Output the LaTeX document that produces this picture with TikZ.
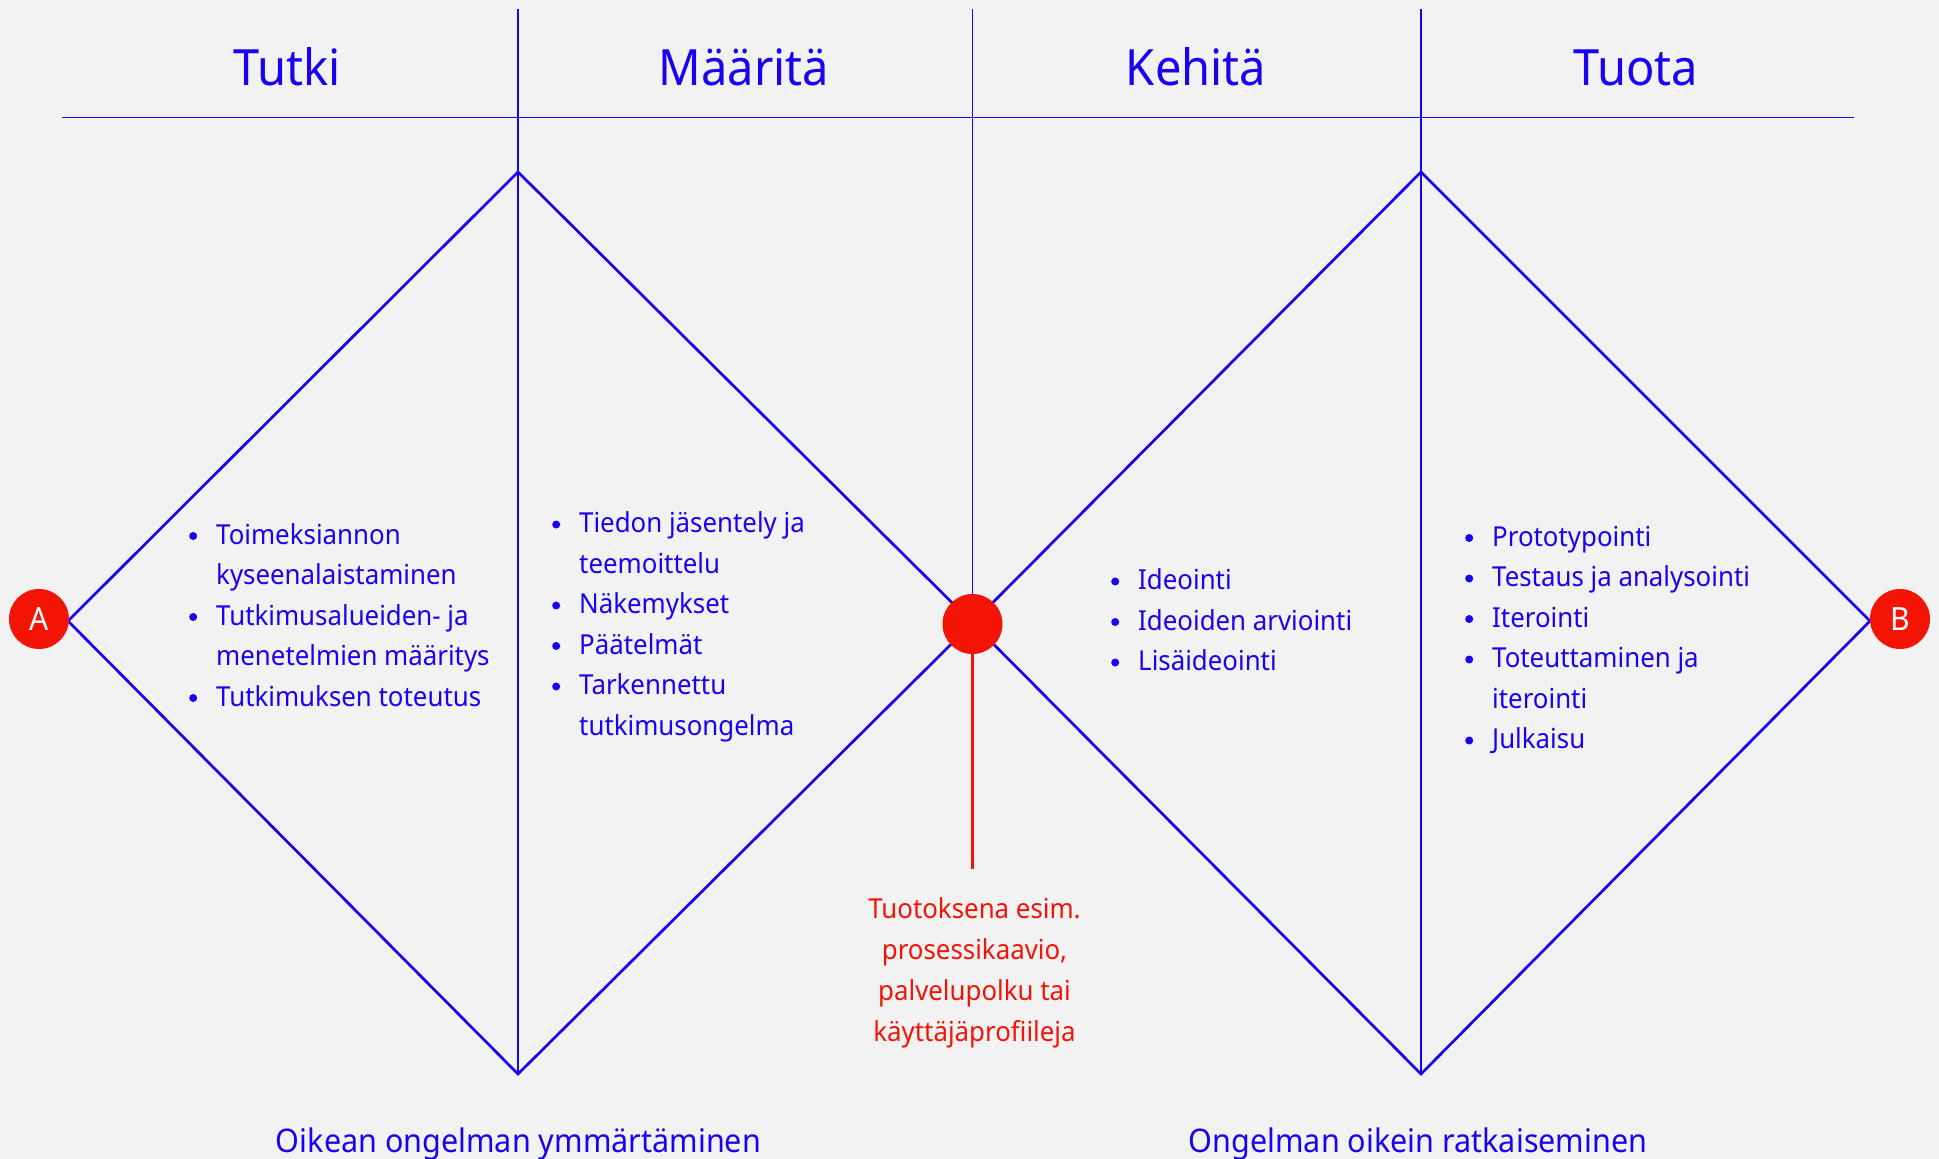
\documentclass[tikz,border=0pt]{standalone}
\usepackage{fontspec}
\setmainfont[FakeStretch=0.94]{Noto Sans}
\definecolor{dblue}{HTML}{1A00F0}
\definecolor{dred}{HTML}{F21405}
\definecolor{bg}{HTML}{F2F2F2}
% list helpers: bulleted first line and indented continuation line
\newcommand\dotmark{\raisebox{4pt}{\tikz[x=1cm,y=1cm]\fill (0,0) circle (4pt);}}
\newcommand\itm[1]{\makebox[27pt][l]{\dotmark}#1}
\newcommand\cont[1]{\hspace*{27pt}#1}
\tikzset{
  diamondline/.style={draw=dblue, line width=2.7pt, line join=miter},
  guide/.style={draw=dblue, line width=1.3pt},
  headline/.style={draw=dblue, line width=1.8pt},
  phase/.style={text=dblue, font=\fontsize{50}{60}\selectfont, inner sep=0pt, anchor=base},
  % multi-line nodes: the base anchor sits on the last line
  listtext/.style={text=dblue, font=\fontsize{27.5}{40.5}\selectfont, align=left, inner sep=0pt, anchor=base west},
  outtext/.style={text=dred, font=\fontsize{27.5}{41}\selectfont, align=center, inner sep=0pt, anchor=base},
  goal/.style={text=dblue, font=\fontsize{32.5}{40}\selectfont, inner sep=0pt, anchor=base},
  marker/.style={circle, fill=dred, minimum size=60pt, inner sep=0pt, text=white, font=\fontsize{32}{38}\selectfont},
}
\begin{document}
\begin{tikzpicture}[x=1pt,y=-1pt]
\fill[bg] (0,0) rectangle (1939,1159);
\useasboundingbox (0,0) rectangle (1939,1159);

% header rule and column dividers
\coordinate (hl) at (62,117.5);
\coordinate (hr) at (1854,117.5);
\coordinate (t1) at (518,9);
\coordinate (t2) at (972.5,9);
\coordinate (t3) at (1421,9);
\draw[headline] (hl) -- (hr);

% diamond vertices
\coordinate (d1w) at (68,621);
\coordinate (d1n) at (518,172);
\coordinate (d1s) at (518,1074);
\coordinate (mid) at (972.5,623);
\coordinate (d2n) at (1421,172);
\coordinate (d2s) at (1421,1074);
\coordinate (d2e) at (1870,621);
\coordinate (outend) at (972.5,869);

\draw[guide] (t1) -- (d1n);
\draw[guide] (t3) -- (d2n);
\draw[guide] (t2) -- (mid);

\draw[diamondline] (d1w) -- (d1n) -- (mid) -- (d1s) -- cycle;
\draw[diamondline] (mid) -- (d2n) -- (d2e) -- (d2s) -- cycle;
\draw[diamondline] (d1n) -- (d1s);
\draw[diamondline] (d2n) -- (d2s);

% output line
\draw[draw=dred, line width=2.6pt] (mid) -- (outend);

% markers
\node[marker] (A) at (39,619) {A};
\node[marker] (B) at (1900,619) {B};
\node[marker] (M) at (972.5,624) {};

% phase titles
\node[phase] (p1) at (287,85) {Tutki};
\node[phase] (p2) at (744,85) {Määritä};
\node[phase] (p3) at (1196,85) {Kehitä};
\node[phase] (p4) at (1636,85) {Tuota};

% lists
\node[listtext] (L1) at (189,706) {\itm{Toimeksiannon}\\\cont{kyseenalaistaminen}\\\itm{Tutkimusalueiden- ja}\\\cont{menetelmien määritys}\\\itm{Tutkimuksen toteutus}};
\node[listtext] (L2) at (552,735) {\itm{Tiedon jäsentely ja}\\\cont{teemoittelu}\\\itm{Näkemykset}\\\itm{Päätelmät}\\\itm{Tarkennettu}\\\cont{tutkimusongelma}};
\node[listtext] (L3) at (1111,670.5) {\itm{Ideointi}\\\itm{Ideoiden arviointi}\\\itm{Lisäideointi}};
\node[listtext] (L4) at (1465,748.5) {\itm{Prototypointi}\\\itm{Testaus ja analysointi}\\\itm{Iterointi}\\\itm{Toteuttaminen ja}\\\cont{iterointi}\\\itm{Julkaisu}};

% output note
\node[outtext] (out) at (974.5,1041.7) {Tuotoksena esim.\\prosessikaavio,\\palvelupolku tai\\käyttäjäprofiileja};

% goals
\node[goal] (g1) at (518.5,1152) {Oikean ongelman ymmärtäminen};
\node[goal] (g2) at (1418,1152) {Ongelman oikein ratkaiseminen};
\end{tikzpicture}
\end{document}
